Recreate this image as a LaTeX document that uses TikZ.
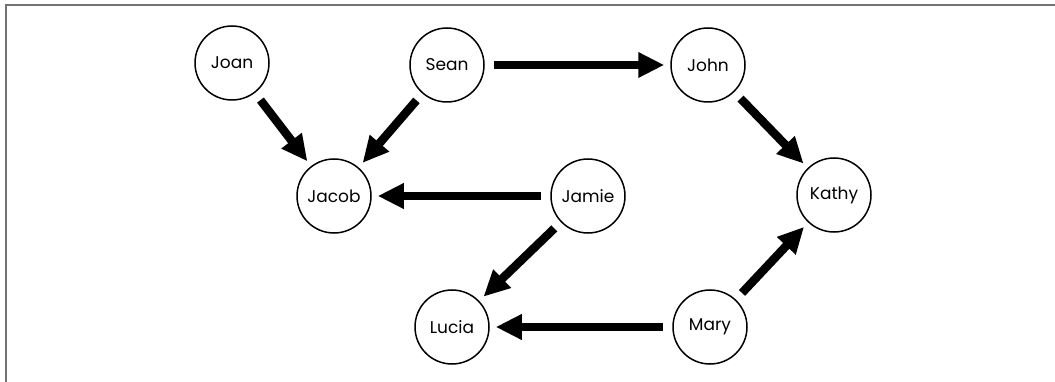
\documentclass[tikz,border=0pt]{standalone}
\usepackage{fontspec}
\setmainfont{Poppins}
\usetikzlibrary{arrows.meta}
\begin{document}
\begin{tikzpicture}[x=1pt, y=-1pt,
		person/.style={circle, draw=black, line width=1.5pt, minimum size=74pt, inner sep=0pt, font=\fontsize{17}{19}\selectfont},
		link/.style={line width=8.5pt, -{Triangle[length=26pt, width=24pt]}, shorten <=9pt, shorten >=6pt}]
			\useasboundingbox (0,0) rectangle (1055,382);
			\draw[gray!90!black, line width=2pt] (5.5,382) -- (5.5,5.5) -- (1055,5.5);
			\node[person] (joan) at (232,63) {Joan};
			\node[person] (sean) at (447,65) {Sean};
			\node[person] (john) at (708,65) {John};
			\node[person] (jacob) at (334,196) {Jacob};
			\node[person] (jamie) at (588,196) {Jamie};
			\node[person] (kathy) at (834,195) {Kathy};
			\node[person] (lucia) at (452,327) {Lucia};
			\node[person] (mary) at (710,327) {Mary};
			\draw[link] (joan) -- (jacob);
			\draw[link] (sean) -- (jacob);
			\draw[link] (sean) -- (john);
			\draw[link] (john) -- (kathy);
			\draw[link] (jamie) -- (jacob);
			\draw[link] (jamie) -- (lucia);
			\draw[link] (mary) -- (lucia);
			\draw[link] (mary) -- (kathy);
		\end{tikzpicture}
\end{document}
